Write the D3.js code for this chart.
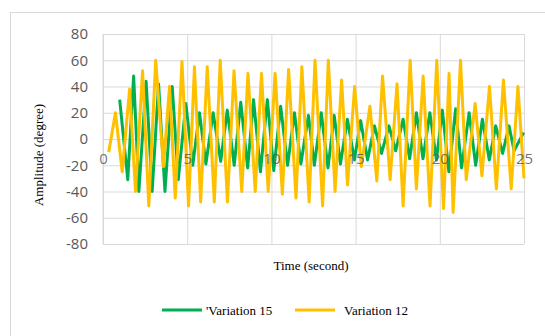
<!DOCTYPE html>
<html>
<head>
<meta charset="utf-8">
<script src="https://cdn.jsdelivr.net/npm/d3@7"></script>
<style>
  body { margin: 0; background: #fff; }
</style>
</head>
<body>
<div id="chart"></div>
<script>
// data
var seriesNames = ["Variation 15", "Variation 12"];

var timeV15 = [0.99,1.47,1.82,2.13,2.56,2.92,3.3,3.68,
  4.11,4.47,4.92,5.33,5.73,6.11,6.54,6.99,
  7.38,7.79,8.18,8.59,8.94,9.35,9.76,10.14,
  10.55,10.96,11.37,11.75,12.2,12.55,12.96,13.36,
  13.73,14.1,14.51,14.93,15.3,15.71,16.12,16.54,
  16.98,17.38,17.82,18.21,18.61,19.0,19.41,19.8,
  20.15,20.54,20.94,21.29,21.74,22.13,22.53,22.94,
  23.32,23.73,24.11,24.41,24.98];
var ampV15 = [30,-31,48,-40,44,-40,42,-40,
  40,-31,27,-20,20,-19,20,-17,
  22,-20,28,-22,30,-25,30,-24,
  25,-20,20,-19,18,-20,20,-22,
  18,-19,15,-16,14,-16,10,-11,
  10,-9,15,-15,20,-15,20,-16,
  22,-25,23,-22,20,-20,15,-16,
  10,-11,10,-9,5];

var timeV12 = [0.34,0.74,1.14,1.58,1.93,2.35,2.72,3.13,
  3.59,3.95,4.29,4.69,5.08,5.43,5.8,6.19,
  6.61,6.96,7.39,7.78,8.24,8.61,9.04,9.41,
  9.81,10.22,10.65,11.02,11.46,11.81,12.24,12.59,
  13.04,13.38,13.78,14.17,14.52,14.94,15.34,15.85,
  16.26,16.6,17.05,17.46,17.82,18.24,18.61,19.01,
  19.42,19.82,20.22,20.55,20.79,21.23,21.57,22.1,
  22.5,22.95,23.36,23.78,24.24,24.64,25.0];
var ampV12 = [-10,20,-25,38,-40,52,-51,60,
  -21,40,-45,59,-51,55,-48,55,
  -48,60,-48,52,-40,50,-40,50,
  -40,50,-42,53,-45,55,-48,60,
  -51,60,-40,45,-35,40,-21,25,
  -32,48,-31,42,-51,60,-38,48,
  -51,60,-53,50,-56,60,-31,27,
  -28,40,-38,45,-38,40,-30];

var xTicks = [0, 5, 10, 15, 20, 25];
var yTicks = [-80, -60, -40, -20, 0, 20, 40, 60, 80];

var W = 545, H = 336;
var margin = {left: 103, right: 21, top: 34, bottom: 92};
var width = W - margin.left - margin.right;
var height = H - margin.top - margin.bottom;
var colors = ["#00B050", "#FFC000"];
var grid = "#D9D9D9";
var tickFont = "'Open Sans', sans-serif";

var svg = d3.select("#chart")
  .append("svg")
    .attr("width", W)
    .attr("height", H);

svg.append("rect")
  .attr("x", 10.5).attr("y", 12.5)
  .attr("width", W).attr("height", H)
  .attr("fill", "#fff")
  .attr("stroke", grid);

var g = svg.append("g")
  .attr("transform", `translate(${margin.left},${margin.top})`);

var x = d3.scaleLinear().domain([0, 25]).range([0, width]);
var y = d3.scaleLinear().domain([-80, 80]).range([height, 0]);

// horizontal gridlines + y labels
var yAxis = g.append("g")
  .call(d3.axisLeft(y).tickValues(yTicks).tickSize(-width).tickPadding(15)
    .tickFormat(d => String(d)));
yAxis.select(".domain").remove();
yAxis.selectAll("line").attr("stroke", grid);
yAxis.selectAll("text")
  .style("font-family", tickFont)
  .style("font-size", "15px")
  .attr("fill", "#595959");

// vertical gridlines
var xGrid = g.append("g")
  .attr("transform", `translate(0,${height})`)
  .call(d3.axisBottom(x).tickValues(xTicks).tickSize(-height).tickFormat(""));
xGrid.select(".domain").remove();
xGrid.selectAll("line").attr("stroke", grid);

// left axis line
g.append("line")
  .attr("x1", 0).attr("x2", 0)
  .attr("y1", 0).attr("y2", height)
  .attr("stroke", grid);

var line = d3.line()
  .x(d => x(d[0]))
  .y(d => y(d[1]));

var series = [d3.zip(timeV15, ampV15), d3.zip(timeV12, ampV12)];

g.selectAll(".series")
  .data(series)
  .join("path")
    .attr("class", "series")
    .attr("d", line)
    .attr("fill", "none")
    .attr("stroke", (d, i) => colors[i])
    .attr("stroke-width", 3)
    .attr("stroke-linejoin", "round");

// x labels sit under the zero line, drawn over the lines
var xAxis = g.append("g")
  .attr("transform", `translate(0,${y(0)})`)
  .call(d3.axisBottom(x).tickValues(xTicks).tickSize(0).tickPadding(14));
xAxis.select(".domain").remove();
xAxis.selectAll("text")
  .style("font-family", tickFont)
  .style("font-size", "15px")
  .attr("fill", "#595959")
  .attr("fill-opacity", 0.85);

// axis titles
svg.append("text")
  .attr("transform", "translate(43,155)rotate(-90)")
  .attr("text-anchor", "middle")
  .style("font-family", "'Liberation Serif', serif")
  .style("font-size", "13px")
  .attr("fill", "#000")
  .text("Amplitude (degree)");

svg.append("text")
  .attr("x", 311)
  .attr("y", 270)
  .attr("text-anchor", "middle")
  .style("font-family", "'Liberation Serif', serif")
  .style("font-size", "13px")
  .attr("fill", "#000")
  .text("Time (second)");

// legend
var legendX = [162, 295];
var legendLabels = ["'" + seriesNames[0], seriesNames[1]];
var lg = svg.selectAll(".legend")
  .data(legendLabels)
  .join("g")
    .attr("class", "legend")
    .attr("transform", (d, i) => `translate(${legendX[i]},310)`);
lg.append("line")
  .attr("x1", 0).attr("x2", 40)
  .attr("stroke", (d, i) => colors[i])
  .attr("stroke-width", 3);
lg.append("text")
  .attr("x", (d, i) => i == 0 ? 44 : 49)
  .attr("y", 4.5)
  .style("font-family", "'Liberation Serif', serif")
  .style("font-size", "13px")
  .attr("fill", "#000")
  .text(d => d);
</script>
</body>
</html>
